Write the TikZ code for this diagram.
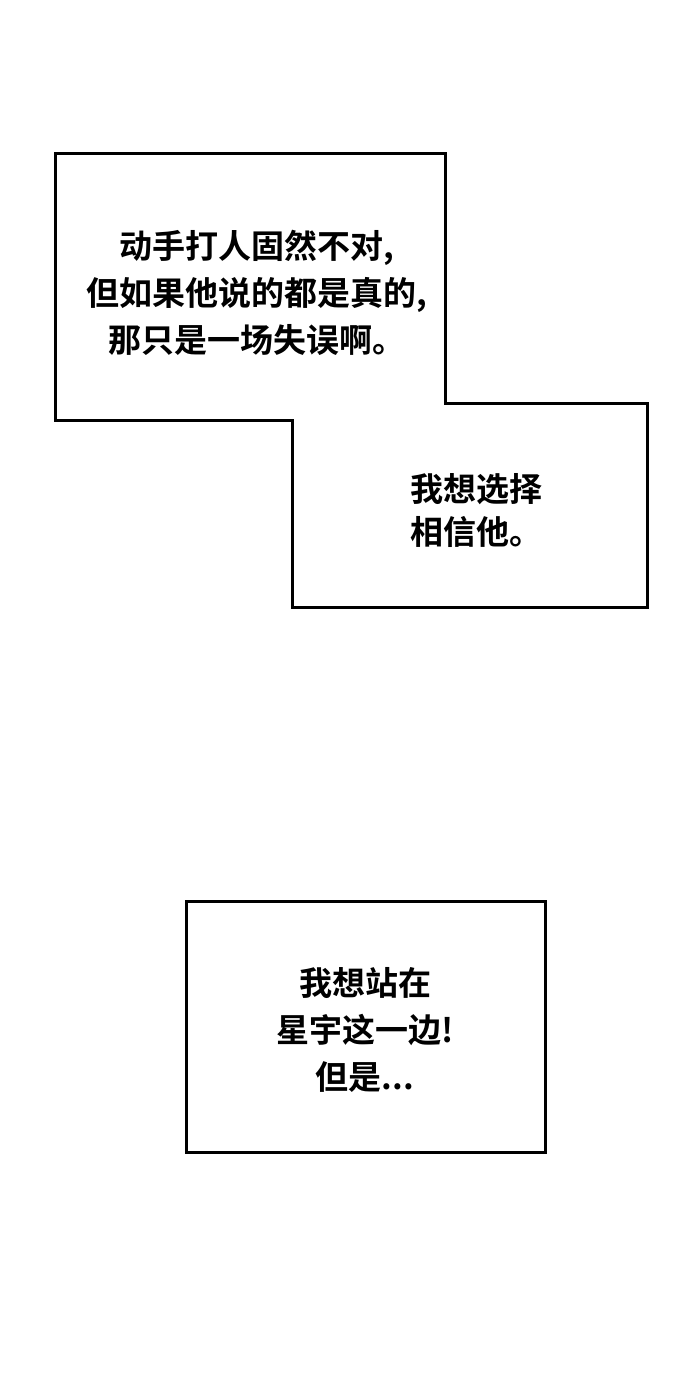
\documentclass[tikz,border=0pt]{standalone}
\usepackage{fontspec}
\newfontfamily\cjk{Noto Sans CJK SC}[BoldFont={Noto Sans CJK SC Bold}]
\tikzset{
panel/.style={draw=black,line width=3pt},
speech/.style={align=center,font=\cjk\bfseries\fontsize{33}{47}\selectfont,inner sep=0pt}
}
\begin{document}
\begin{tikzpicture}[x=1pt,y=-1pt]
\useasboundingbox[fill=white] (0,0) rectangle (690,1386);

% the joined panels at the top
\draw[panel] (55,153) -- (445,153) -- (445,403) -- (647,403) -- (647,607)
  -- (292,607) -- (292,420) -- (55,420) -- cycle;
\draw[panel] (186,901) rectangle (545,1152);

% the texts
\node[speech] (t1) at (257,293) {动手打人固然不对,\\但如果他说的都是真的,\\那只是一场失误啊。};
\node[speech,font=\cjk\bfseries\fontsize{33}{43}\selectfont] (t2) at (476,511) {我想选择\\相信他。};
\node[speech] (t3) at (365,1030) {我想站在\\星宇这一边!\\但是...};
\end{tikzpicture}
\end{document}
